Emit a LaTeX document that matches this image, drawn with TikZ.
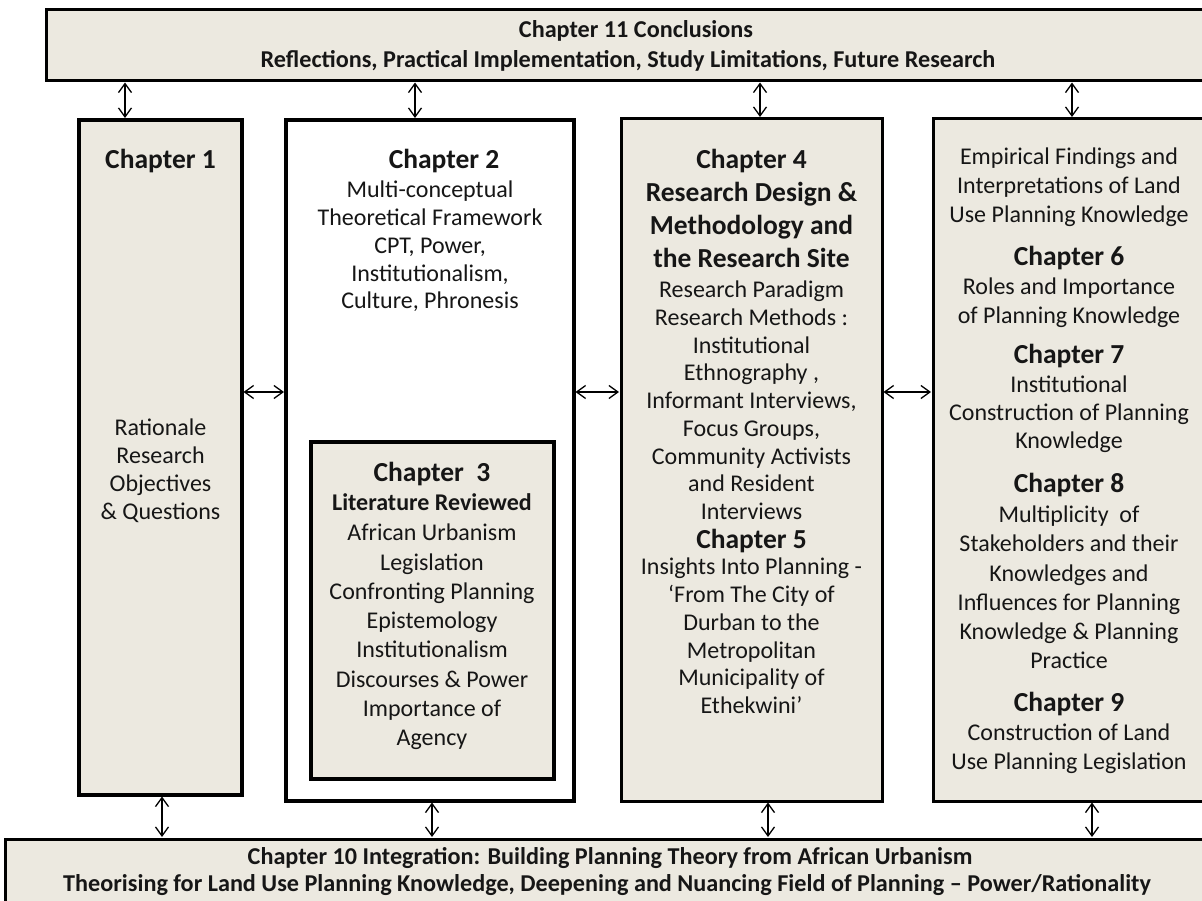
\documentclass[tikz,border=0pt]{standalone}
\usepackage{fontspec}
\setmainfont{Carlito}
\usetikzlibrary{arrows.meta}
\definecolor{panel}{RGB}{236,233,224}
\definecolor{ink}{RGB}{22,22,22}
\tikzset{
  panelbox/.style={draw=black, fill=panel, inner sep=0pt, outer sep=0pt},
  plainbox/.style={draw=black, fill=white, inner sep=0pt, outer sep=0pt},
  body/.style={inner sep=0pt, text=ink, text height=15.4pt, text depth=0pt, font=\fontsize{24}{28}\selectfont},
  head/.style={inner sep=0pt, text=ink, text height=17.6pt, text depth=0pt, font=\fontsize{27.5}{32}\selectfont\bfseries},
  sub/.style={inner sep=0pt, text=ink, text height=15.4pt, text depth=0pt, font=\fontsize{24}{28}\selectfont\bfseries},
  bar/.style={inner sep=0pt, text=ink, text height=15.5pt, text depth=0pt, font=\fontsize{24.2}{29}\selectfont\bfseries},
  link/.style={{Straight Barb[length=9pt,width=13pt]}-{Straight Barb[length=9pt,width=13pt]}, line width=1.3pt, black, shorten <=1.5pt, shorten >=2pt},
}
% a column of centred lines: name, x, first y, step, style, lines
\newcommand\txtstack[6]{\foreach \t [count=\i] in {#6} {\node[#5] (#1-\i) at (#2,{#3+(\i-1)*#4}) {\t};}}

\begin{document}
\begin{tikzpicture}[x=1pt,y=-1pt]
\useasboundingbox (0,0) rectangle (1202,901);
\clip (0,0) rectangle (1202,901);

% frames
\node[panelbox, line width=3pt, minimum width=1169pt, minimum height=71.5pt] (top) at (630.5,45.25) {};
\node[panelbox, line width=3pt, minimum width=1210pt, minimum height=81pt] (bottom) at (610,879.5) {};
\node[panelbox, line width=4.5pt, minimum width=163pt, minimum height=675pt] (b1) at (160.5,457.5) {};
\node[plainbox, line width=4.5pt, minimum width=288pt, minimum height=681pt] (b2) at (430,460.5) {};
\node[panelbox, line width=4pt, minimum width=243pt, minimum height=337pt] (b3) at (432.5,610.5) {};
\node[panelbox, line width=3pt, minimum width=261pt, minimum height=682pt] (b4) at (751.5,460) {};
\node[panelbox, line width=3pt, minimum width=272pt, minimum height=682pt] (b5) at (1069,460) {};

% top and bottom bars
\node[bar] (t1) at (636,30) {Chapter 11 Conclusions};
\node[bar] (t2) at (628,60) {Reflections, Practical Implementation, Study Limitations, Future Research};
\node[bar] (u1) at (610,857) {Chapter 10 Integration: Building Planning Theory from African Urbanism};
\node[bar] (u2) at (607,884) {Theorising for Land Use Planning Knowledge, Deepening and Nuancing Field of Planning -- Power/Rationality};

% chapter 1
\node[head] (h1) at (160.5,160) {Chapter 1};
\txtstack{r1}{160.5}{428}{28}{body}{Rationale, Research, Objectives, \& Questions}

% chapter 2
\node[head] (h2) at (444,160) {Chapter 2};
\txtstack{r2}{430}{190}{27.8}{body}{Multi-conceptual, Theoretical Framework, {CPT, Power,}, {Institutionalism,}, {Culture, Phronesis}}

% chapter 3
\node[head] (h3) at (432,473) {Chapter\ \ 3};
\node[sub] (s3) at (432,503) {Literature Reviewed};
\txtstack{r3}{432}{533}{29.3}{body}{African Urbanism, Legislation, Confronting Planning, Epistemology, Institutionalism, Discourses \& Power, Importance of, Agency}

% chapters 4 and 5
\node[head] (h4) at (751.5,160) {Chapter 4};
\txtstack{s4}{751.5}{193}{33}{head}{Research Design \&, Methodology and, the Research Site}
\txtstack{r4}{751.5}{290}{27.75}{body}{Research Paradigm, Research Methods :, Institutional, {Ethnography ,}, {Informant Interviews,}, {Focus Groups,}, Community Activists, and Resident, Interviews}
\node[head] (h5) at (751.5,540) {Chapter 5};
\txtstack{r5}{751.5}{567}{27.8}{body}{Insights Into Planning -, ‘From The City of, Durban to the, Metropolitan, Municipality of, Ethekwini’}

% chapters 6 to 9
\txtstack{e5}{1069}{157}{29}{body}{Empirical Findings and, Interpretations of Land, Use Planning Knowledge}
\node[head] (h6) at (1069,257) {Chapter 6};
\txtstack{r6}{1069}{287}{29}{body}{Roles and Importance, of Planning Knowledge}
\node[head] (h7) at (1069,355) {Chapter 7};
\txtstack{r7}{1069}{385}{28}{body}{Institutional, Construction of Planning, Knowledge}
\node[head] (h8) at (1069,484) {Chapter 8};
\txtstack{r8}{1069}{515}{29.2}{body}{Multiplicity\ \ of, Stakeholders and their, Knowledges and, Influences for Planning, Knowledge \& Planning, Practice}
\node[head] (h9) at (1069,703) {Chapter 9};
\txtstack{r9}{1069}{733}{29}{body}{Construction of Land, Use Planning Legislation}

% connectors
\coordinate (ta1) at (125,0);  \coordinate (ta2) at (415,0);
\coordinate (ta3) at (760,0);  \coordinate (ta4) at (1072,0);
\coordinate (ba1) at (162,0);  \coordinate (ba2) at (432,0);
\coordinate (ba3) at (768,0);  \coordinate (ba4) at (1092,0);
\coordinate (mid) at (0,392);

\draw[link] (top.south -| ta1) -- (b1.north -| ta1);
\draw[link] (top.south -| ta2) -- (b2.north -| ta2);
\draw[link] (top.south -| ta3) -- (b4.north -| ta3);
\draw[link] (top.south -| ta4) -- (b5.north -| ta4);

\draw[link] (b1.south -| ba1) -- (bottom.north -| ba1);
\draw[link] (b2.south -| ba2) -- (bottom.north -| ba2);
\draw[link] (b4.south -| ba3) -- (bottom.north -| ba3);
\draw[link] (b5.south -| ba4) -- (bottom.north -| ba4);

\draw[link] (b1.east |- mid) -- (b2.west |- mid);
\draw[link] (b2.east |- mid) -- (b4.west |- mid);
\draw[link] (b4.east |- mid) -- (b5.west |- mid);
\end{tikzpicture}
\end{document}
